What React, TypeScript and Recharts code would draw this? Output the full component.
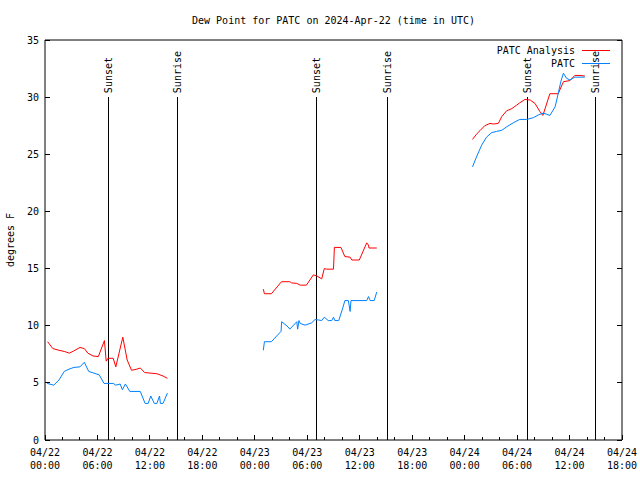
import { LineChart, Line, XAxis, YAxis, ReferenceLine } from "recharts";

const FONT = "'DejaVu Sans Mono', monospace";
const RED = "#ff0000";
const BLUE = "#0080ff";

// hours since 04/22 00:00 UTC, dew point (F)
const analysisDay1 = [
  [0.3, 8.6], [0.9, 8.0], [1.6, 7.85], [2.2, 7.75], [2.8, 7.6], [3.3, 7.8],
  [4.0, 8.1], [4.5, 8.0], [4.9, 7.6], [5.5, 7.35], [6.1, 7.3], [6.8, 8.7],
  [7.0, 6.9], [7.2, 7.15], [7.8, 7.15], [8.1, 6.4], [8.9, 9.0], [9.4, 7.0],
  [9.9, 6.1], [10.5, 6.2], [10.9, 6.3], [11.4, 5.9], [12.8, 5.8], [13.5, 5.6],
  [14.0, 5.4],
];
const analysisDay2 = [
  [24.97, 13.2], [25.1, 12.8], [25.9, 12.8], [27.05, 13.85], [28.0, 13.85],
  [28.2, 13.75], [28.8, 13.7], [29.2, 13.55], [29.9, 13.55], [30.7, 14.45],
  [31.1, 14.35], [31.65, 14.1], [31.95, 15.0], [32.2, 14.95], [33.0, 14.95],
  [33.1, 16.85], [33.85, 16.85], [34.3, 16.05], [34.9, 16.0], [35.1, 15.75],
  [35.95, 15.75], [36.8, 17.25], [37.0, 17.05], [37.06, 16.8], [37.95, 16.8],
];
const analysisDay3 = [
  [48.9, 26.3], [49.4, 26.8], [49.8, 27.1], [50.3, 27.5], [50.9, 27.7],
  [51.3, 27.65], [51.85, 27.7], [52.25, 28.3], [52.8, 28.8], [53.4, 29.0],
  [53.95, 29.3], [54.3, 29.5], [54.9, 29.8], [55.5, 29.75], [56.05, 29.45],
  [56.6, 28.75], [56.95, 28.4], [57.75, 30.3], [58.7, 30.3], [59.3, 31.35],
  [60.05, 31.45], [60.6, 31.9], [61.2, 31.9], [61.75, 31.85],
];

const patcDay1 = [
  [0.25, 4.95], [1.0, 4.8], [1.6, 5.25], [2.2, 6.0], [2.75, 6.2], [3.3, 6.35],
  [4.0, 6.4], [4.5, 6.8], [5.0, 6.0], [5.6, 5.85], [6.2, 5.7], [6.75, 4.95],
  [7.8, 4.95], [8.1, 4.8], [8.6, 4.9], [8.85, 4.4], [9.2, 4.9], [9.7, 4.25],
  [10.9, 4.25], [11.45, 3.2], [11.8, 3.2], [12.1, 3.85], [12.5, 3.2], [12.8, 3.2],
  [13.1, 3.85], [13.2, 3.2], [13.5, 3.2], [14.0, 4.1],
];
const patcDay2 = [
  [24.97, 7.85], [25.1, 8.6], [25.9, 8.6], [26.5, 9.1], [27.0, 9.5], [27.07, 10.35],
  [27.8, 9.9], [28.0, 9.7], [28.8, 10.35], [28.9, 9.7], [29.05, 10.45], [29.2, 10.2],
  [29.75, 10.05], [30.5, 10.25], [30.9, 10.55], [31.3, 10.5], [31.65, 10.45],
  [31.95, 10.75], [32.4, 10.45], [32.8, 10.45], [33.0, 10.75], [33.15, 10.45],
  [33.6, 10.45], [34.1, 11.65], [34.3, 12.2], [34.7, 12.2], [34.9, 11.25],
  [35.0, 12.2], [36.8, 12.2], [37.0, 12.55], [37.2, 12.2], [37.65, 12.2],
  [37.95, 12.95],
];
const patcDay3 = [
  [48.9, 23.9], [49.4, 24.85], [49.95, 25.8], [50.5, 26.5], [51.1, 26.9],
  [51.65, 27.0], [52.25, 27.1], [52.8, 27.4], [53.55, 27.75], [54.3, 28.05],
  [55.1, 28.05], [55.85, 28.2], [56.45, 28.45], [57.0, 28.6], [57.4, 28.5],
  [57.75, 28.4], [58.35, 29.15], [58.7, 30.3], [59.0, 31.35], [59.3, 32.1],
  [59.65, 31.65], [60.05, 31.5], [60.6, 31.75], [61.75, 31.75],
];

const sunEvents = [
  { h: 7.21, label: "Sunset" },
  { h: 15.21, label: "Sunrise" },
  { h: 31.11, label: "Sunset" },
  { h: 39.12, label: "Sunrise" },
  { h: 55.14, label: "Sunset" },
  { h: 62.92, label: "Sunrise" },
];
const sunLineTop = 30;

const xTicks = [0, 2, 4, 6, 8, 10, 12, 14, 16, 18, 20, 22, 24, 26, 28, 30, 32, 34,
  36, 38, 40, 42, 44, 46, 48, 50, 52, 54, 56, 58, 60, 62, 64, 66];
const yTicks = [0, 5, 10, 15, 20, 25, 30, 35];

// segments joined with a null row so the line breaks between days
const toRows = (segs: number[][][]) =>
  segs.flatMap((seg, i) => [
    ...(i > 0 ? [{ h: seg[0][0] - 0.01, v: null }] : []),
    ...seg.map(([h, v]) => ({ h, v })),
  ]);

const analysisRows = toRows([analysisDay1, analysisDay2, analysisDay3]);
const patcRows = toRows([patcDay1, patcDay2, patcDay3]);

const pad = (n: number) => String(n).padStart(2, "0");

const BottomTick = (props: any) => {
  const { x, y, payload } = props;
  const h = payload.value;
  const major = h % 6 === 0;
  return (
    <g>
      <line x1={x} y1={y} x2={x} y2={y - (major ? 5 : 3)} stroke="#000" shapeRendering="crispEdges" />
      {major && (
        <text x={x} fontFamily={FONT} fontSize={10} fill="#000" textAnchor="middle">
          <tspan x={x} y={y + 16}>{`04/${22 + Math.floor(h / 24)}`}</tspan>
          <tspan x={x} y={y + 29}>{`${pad(h % 24)}:00`}</tspan>
        </text>
      )}
    </g>
  );
};

const TopTick = (props: any) => {
  const { x, y, payload } = props;
  const major = payload.value % 6 === 0;
  return <line x1={x} y1={y} x2={x} y2={y + (major ? 5 : 3)} stroke="#000" shapeRendering="crispEdges" />;
};

const LeftTick = (props: any) => {
  const { x, y, payload } = props;
  return (
    <g>
      <line x1={x} y1={y} x2={x + 5} y2={y} stroke="#000" shapeRendering="crispEdges" />
      <text x={x - 6} y={y} dy={3.5} fontFamily={FONT} fontSize={10} fill="#000" textAnchor="end">
        {payload.value}
      </text>
    </g>
  );
};

const RightTick = (props: any) => {
  const { x, y } = props;
  return <line x1={x} y1={y} x2={x - 5} y2={y} stroke="#000" shapeRendering="crispEdges" />;
};

const SunLabel = (props: any) => {
  const { viewBox, text } = props;
  const x = viewBox.x;
  const y = viewBox.y - 4;
  return (
    <text
      x={x}
      y={y}
      dy={3.5}
      transform={`rotate(-90 ${x} ${y})`}
      fontFamily={FONT}
      fontSize={10}
      fill="#000"
      textAnchor="start"
    >
      {text}
    </text>
  );
};

export default function App() {
  return (
    <div style={{ position: "absolute", left: 0, top: 0, width: 640, height: 480, background: "#fff" }}>
      <LineChart width={640} height={480} margin={{ top: 0, right: 0, bottom: 0, left: 0 }}>
        <XAxis
          xAxisId="b"
          dataKey="h"
          type="number"
          domain={[0, 66]}
          allowDataOverflow
          ticks={xTicks}
          interval={0}
          height={40}
          stroke="#000"
          tickLine={false}
          tickSize={0}
          tickMargin={0}
          tick={BottomTick}
        />
        <XAxis
          xAxisId="t"
          orientation="top"
          type="number"
          domain={[0, 66]}
          allowDataOverflow
          ticks={xTicks}
          interval={0}
          height={40}
          stroke="#000"
          tickLine={false}
          tickSize={0}
          tickMargin={0}
          tick={TopTick}
        />
        <YAxis
          yAxisId="l"
          type="number"
          domain={[0, 35]}
          allowDataOverflow
          ticks={yTicks}
          interval={0}
          width={45}
          stroke="#000"
          tickLine={false}
          tickSize={0}
          tickMargin={0}
          tick={LeftTick}
        />
        <YAxis
          yAxisId="r"
          orientation="right"
          type="number"
          domain={[0, 35]}
          allowDataOverflow
          ticks={yTicks}
          interval={0}
          width={18}
          stroke="#000"
          tickLine={false}
          tickSize={0}
          tickMargin={0}
          tick={RightTick}
        />
        {sunEvents.map((s) => (
          <ReferenceLine
            key={s.h}
            xAxisId="b"
            yAxisId="l"
            segment={[{ x: s.h, y: 0 }, { x: s.h, y: sunLineTop }]}
            stroke="#000"
            strokeWidth={1}
            shapeRendering="crispEdges"
            label={<SunLabel text={s.label} />}
          />
        ))}
        <Line
          xAxisId="b"
          yAxisId="l"
          data={analysisRows}
          dataKey="v"
          stroke={RED}
          strokeWidth={1}
          dot={false}
          type="linear"
          isAnimationActive={false}
        />
        <Line
          xAxisId="b"
          yAxisId="l"
          data={patcRows}
          dataKey="v"
          stroke={BLUE}
          strokeWidth={1}
          dot={false}
          type="linear"
          isAnimationActive={false}
        />
      </LineChart>
      <svg
        width={640}
        height={480}
        style={{ position: "absolute", left: 0, top: 0, pointerEvents: "none" }}
        fontFamily={FONT}
        fontSize={10}
      >
        <text x={333.5} y={23.5} textAnchor="middle" fill="#000">
          Dew Point for PATC on 2024-Apr-22 (time in UTC)
        </text>
        <text x={10} y={240} dy={3.5} textAnchor="middle" fill="#000" transform="rotate(-90 10 240)">
          degrees F
        </text>
        <text x={575} y={53.5} textAnchor="end" fill="#000">PATC Analysis</text>
        <line x1={582} y1={50} x2={610} y2={50} stroke={RED} shapeRendering="crispEdges" />
        <text x={575} y={66.5} textAnchor="end" fill="#000">PATC</text>
        <line x1={582} y1={63} x2={610} y2={63} stroke={BLUE} shapeRendering="crispEdges" />
      </svg>
    </div>
  );
}
